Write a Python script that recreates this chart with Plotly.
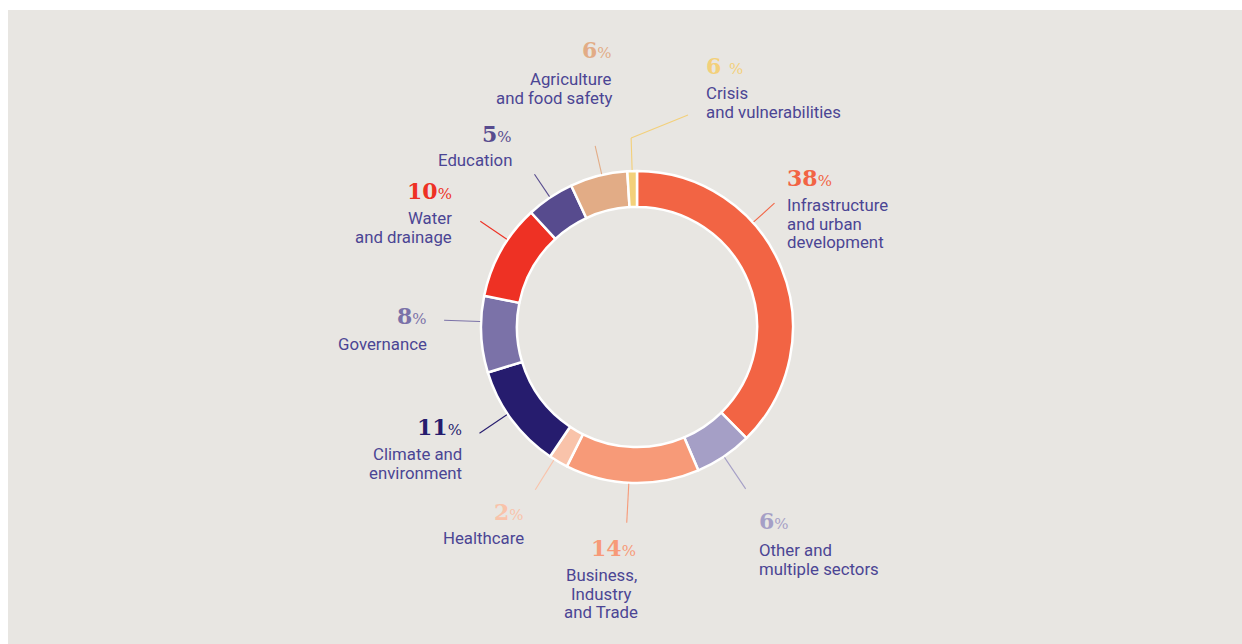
import math
import plotly.graph_objects as go

# ---------------- data ----------------
sectors = [
    "Infrastructure and urban development",
    "Other and multiple sectors",
    "Business, Industry and Trade",
    "Healthcare",
    "Climate and environment",
    "Governance",
    "Water and drainage",
    "Education",
    "Agriculture and food safety",
    "Crisis and vulnerabilities",
]
slice_values = [38, 6, 14, 2, 11, 8, 10, 5, 6, 1]
pct_numbers = ["38", "6", "14", "2", "11", "8", "10", "5", "6", "6 "]
label_lines = [
    ["Infrastructure", "and urban", "development"],
    ["Other and", "multiple sectors"],
    ["Business,", "Industry", "and Trade"],
    ["Healthcare"],
    ["Climate and", "environment"],
    ["Governance"],
    ["Water", "and drainage"],
    ["Education"],
    ["Agriculture", "and food safety"],
    ["Crisis", "and vulnerabilities"],
]
colors = ["#F26444", "#A59FC6", "#F79A78", "#F9C3AA", "#261C6E",
          "#7B72A8", "#EE3124", "#574B8E", "#E2AC86", "#F3D07A"]

# ---------------- layout config (screen pixels) ----------------
W, H = 1242, 644
CX, CY, R = 637, 327, 156
HOLE = 0.77
TEXT_COLOR = "#4B4594"

# per label: (anchor x, align, pct y, first line y)
label_pos = [
    (785, "left", 178, 205),
    (757, "left", 521, 550),
    (601, "center", 548, 575),
    (526, "right", 512, 538),
    (464, "right", 427, 454),
    (429, "right", 316, 344),
    (454, "right", 191, 218),
    (514, "right", 134, 160),
    (614, "right", 50, 79),
    (704, "left", 66, 93),
]
LINE_GAP = 18.6
# leader: angle override (deg, None = slice middle), length in px
leader_cfg = [(48, 28), (None, 38), (183, 39), (212, 35), (236, 33),
              (272, 36), (304, 32), (None, 27), (347, 29), (None, 32)]


def px(x):
    return x / W


def py(y):
    return 1 - y / H


fig = go.Figure()
fig.add_trace(go.Pie(
    labels=sectors, values=slice_values, sort=False, direction="clockwise",
    rotation=0, hole=HOLE, textinfo="none", hoverinfo="label",
    marker=dict(colors=colors, line=dict(color="white", width=2.5)),
    domain=dict(x=[px(CX - R), px(CX + R)], y=[py(CY + R), py(CY - R)]),
    showlegend=False,
))

shapes = [dict(type="rect", xref="paper", yref="paper",
               x0=px(8), x1=1, y0=0, y1=py(10),
               fillcolor="#E8E6E2", line=dict(width=0), layer="below")]
annotations = []

total = sum(slice_values)
start = 0.0
for i, v in enumerate(slice_values):
    span = 360.0 * v / total
    mid = start + span / 2
    start += span
    ang, ln = leader_cfg[i]
    a = math.radians(mid if ang is None else ang)
    r0, r1 = R + 1, R + 1 + ln
    x0, y0 = CX + r0 * math.sin(a), CY - r0 * math.cos(a)
    x1, y1 = CX + r1 * math.sin(a), CY - r1 * math.cos(a)
    shapes.append(dict(type="line", xref="paper", yref="paper",
                       x0=px(x0), y0=py(y0), x1=px(x1), y1=py(y1),
                       line=dict(color=colors[i], width=1.1)))
    if i == len(slice_values) - 1:
        # bent leader to the crisis label
        shapes.append(dict(type="line", xref="paper", yref="paper",
                           x0=px(x1), y0=py(y1), x1=px(688), y1=py(115),
                           line=dict(color=colors[i], width=1.1)))

    ax, align, pct_y, line_y = label_pos[i]
    xanchor = align
    pct_x = ax
    pct_anchor = xanchor
    if align == "center":
        pct_x, pct_anchor = 638, "right"
    annotations.append(dict(
        xref="paper", yref="paper", x=px(pct_x), y=py(pct_y),
        xanchor=pct_anchor, yanchor="middle", showarrow=False,
        text=f"<b>{pct_numbers[i]}</b><span style='font-size:15px'>%</span>",
        font=dict(family="DejaVu Serif", size=22, color=colors[i]),
    ))
    for k, line in enumerate(label_lines[i]):
        annotations.append(dict(
            xref="paper", yref="paper", x=px(ax), y=py(line_y + k * LINE_GAP),
            xanchor=xanchor, yanchor="middle", showarrow=False, text=line,
            font=dict(family="Roboto", size=16.8, color=TEXT_COLOR),
        ))

fig.update_layout(
    width=W, height=H, margin=dict(l=0, r=0, t=0, b=0),
    paper_bgcolor="white", plot_bgcolor="white",
    shapes=shapes, annotations=annotations,
)
fig.write_html(
    "out.html",
    config={"displayModeBar": False},
    post_script="document.body.style.margin='0';document.body.style.overflow='hidden';",
)
